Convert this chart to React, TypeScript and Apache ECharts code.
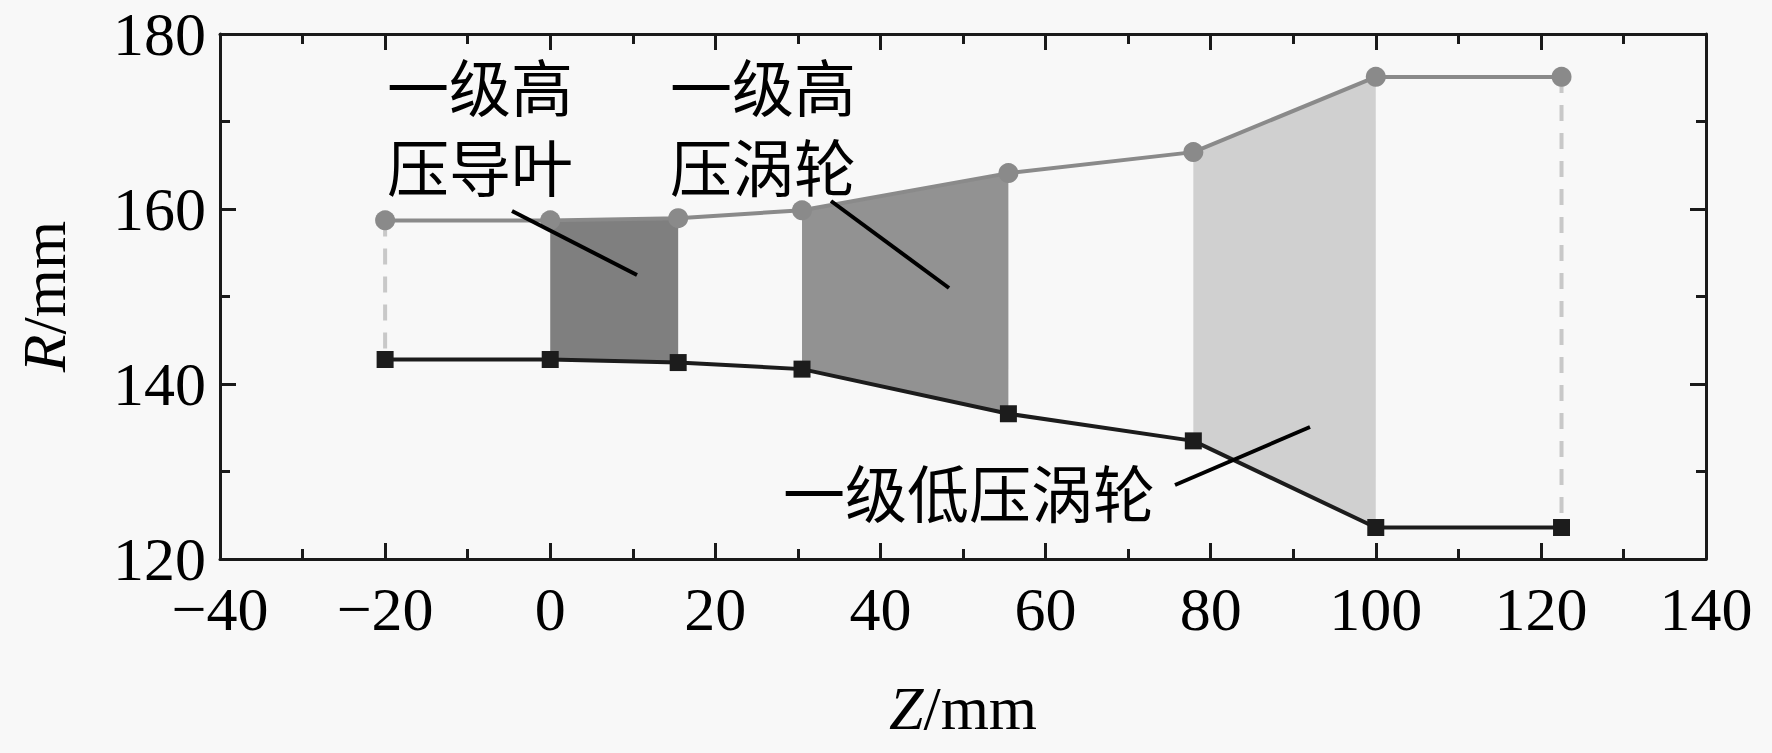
import React, { useEffect, useRef } from "react";
import * as echarts from "echarts";

const zValues = [-20, 0, 15.5, 30.5, 55.5, 77.9, 100, 122.5];
const upperR = [158.7, 158.7, 158.95, 159.85, 164.1, 166.5, 175.1, 175.1];
const lowerR = [142.8, 142.8, 142.45, 141.7, 136.6, 133.5, 123.6, 123.6];
const fillStarts = [1, 3, 5];
const fillColors = ["#7f7f7f", "#929292", "#d0d0d0"];
const xTicks = [-40, -20, 0, 20, 40, 60, 80, 100, 120, 140];
const yTicks = [120, 140, 160, 180];
const labelLines = [
  { text: "一级高", x: 480, y: 91 },
  { text: "压导叶", x: 480, y: 171 },
  { text: "一级高", x: 763, y: 91 },
  { text: "压涡轮", x: 763, y: 171 },
  { text: "一级低压涡轮", x: 969, y: 497 },
];
const leaders = [
  [512, 211, 637, 275],
  [831, 201, 949, 288],
  [1175, 485, 1310, 427],
];

const SERIF = "Liberation Serif, Times New Roman, serif";
const CJK = "Liberation Serif, Noto Sans CJK SC, sans-serif";

export default function App() {
  const ref = useRef<HTMLDivElement>(null);
  useEffect(() => {
    document.body.style.margin = "0";
    document.body.style.background = "#f8f8f8";
    const chart = echarts.init(ref.current!, undefined, { renderer: "svg" });
    const axisCommon = {
      type: "value" as const,
      axisLine: { show: true, onZero: false, lineStyle: { color: "#1a1a1a", width: 3 } },
      axisTick: { show: true, inside: true, length: 16, lineStyle: { color: "#1a1a1a", width: 3 } },
      minorTick: { show: true, splitNumber: 2, length: 10, lineStyle: { color: "#1a1a1a", width: 3 } },
      splitLine: { show: false },
    };
    const upperData = zValues.map((z, i) => [z, upperR[i]]);
    const lowerData = zValues.map((z, i) => [z, lowerR[i]]);
    const last = zValues.length - 1;
    const nameStyle = {
      fontFamily: SERIF,
      fontSize: 62,
      color: "#000",
      rich: { i: { fontFamily: SERIF, fontSize: 62, fontStyle: "italic", color: "#000" } },
    };
    const option: any = {
      animation: false,
      backgroundColor: "#f8f8f8",
      grid: { left: 220, right: 66, top: 34, bottom: 194 },
      xAxis: [
        {
          ...axisCommon,
          min: xTicks[0],
          max: xTicks[xTicks.length - 1],
          interval: 20,
          position: "bottom",
          name: "{i|Z}/mm",
          nameLocation: "middle",
          nameGap: 118,
          nameTextStyle: nameStyle,
          axisLabel: {
            fontFamily: SERIF,
            fontSize: 62,
            lineHeight: 44,
            color: "#000",
            margin: 28,
            formatter: (v: number) => (v < 0 ? "\u2212" + Math.abs(v) : String(v)),
          },
        },
        {
          ...axisCommon,
          min: xTicks[0],
          max: xTicks[xTicks.length - 1],
          interval: 20,
          position: "top",
          axisLabel: { show: false },
        },
      ],
      yAxis: [
        {
          ...axisCommon,
          min: yTicks[0],
          max: yTicks[yTicks.length - 1],
          interval: 20,
          position: "left",
          name: "{i|R}/mm",
          nameLocation: "middle",
          nameRotate: 90,
          nameGap: 145,
          nameTextStyle: nameStyle,
          axisLabel: { fontFamily: SERIF, fontSize: 62, lineHeight: 44, color: "#000", margin: 14 },
        },
        {
          ...axisCommon,
          min: yTicks[0],
          max: yTicks[yTicks.length - 1],
          interval: 20,
          position: "right",
          axisLabel: { show: false },
        },
      ],
      series: [
        {
          type: "custom",
          z: 1,
          data: fillStarts.map((s, k) => [s, k]),
          renderItem: (params: any, api: any) => {
            const i = api.value(0);
            const k = api.value(1);
            const pts = [
              api.coord([zValues[i], upperR[i]]),
              api.coord([zValues[i + 1], upperR[i + 1]]),
              api.coord([zValues[i + 1], lowerR[i + 1]]),
              api.coord([zValues[i], lowerR[i]]),
            ];
            return {
              type: "polygon",
              shape: { points: pts },
              style: { fill: fillColors[k], stroke: null },
            };
          },
        },
        {
          type: "line",
          z: 2,
          data: [upperData[0], lowerData[0]],
          symbol: "none",
          lineStyle: { color: "#c8c8c8", width: 4, type: [16, 12] },
        },
        {
          type: "line",
          z: 2,
          data: [upperData[last], lowerData[last]],
          symbol: "none",
          lineStyle: { color: "#c8c8c8", width: 4, type: [16, 12] },
        },
        {
          type: "line",
          z: 3,
          data: upperData,
          symbol: "circle",
          symbolSize: 20,
          itemStyle: { color: "#8a8a8a" },
          lineStyle: { color: "#8a8a8a", width: 4 },
        },
        {
          type: "line",
          z: 3,
          data: lowerData,
          symbol: "rect",
          symbolSize: 17,
          itemStyle: { color: "#1c1c1c" },
          lineStyle: { color: "#1c1c1c", width: 4 },
        },
      ],
      graphic: [
        ...labelLines.map((l) => ({
          type: "text",
          x: l.x,
          y: l.y,
          z: 10,
          style: {
            text: l.text,
            font: `62px ${CJK}`,
            fill: "#000",
            align: "center",
            verticalAlign: "middle",
          },
        })),
        ...leaders.map(([x1, y1, x2, y2]) => ({
          type: "line",
          z: 10,
          shape: { x1, y1, x2, y2 },
          style: { stroke: "#000", lineWidth: 4 },
        })),
      ],
    };
    chart.setOption(option);
    return () => chart.dispose();
  }, []);
  return <div ref={ref} style={{ width: 1772, height: 753 }} />;
}
